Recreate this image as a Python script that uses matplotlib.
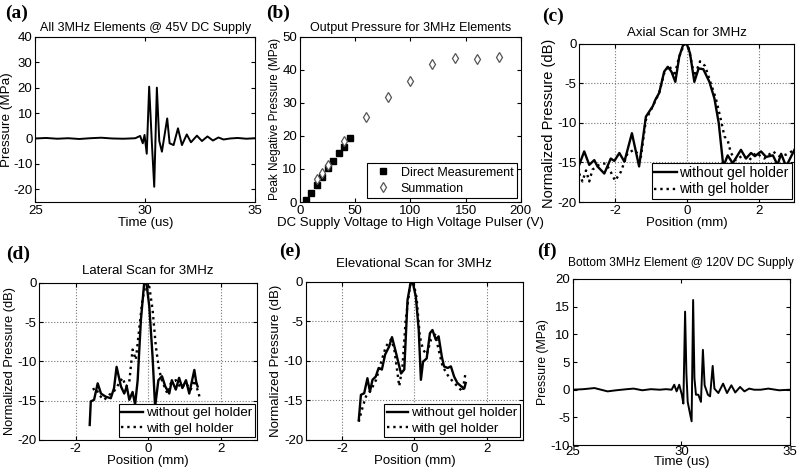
import matplotlib
matplotlib.use("Agg")
import matplotlib.pyplot as plt

plt.rcParams["font.family"] = ["Liberation Sans", "DejaVu Sans"]
plt.rcParams["axes.unicode_minus"] = False
plt.rcParams["xtick.direction"] = "in"
plt.rcParams["ytick.direction"] = "in"
plt.rcParams["xtick.top"] = True
plt.rcParams["ytick.right"] = True
plt.rcParams["xtick.major.size"] = 3
plt.rcParams["ytick.major.size"] = 3
plt.rcParams["xtick.major.pad"] = 2
plt.rcParams["ytick.major.pad"] = 2
plt.rcParams["font.size"] = 9.5

# (a) all elements @ 45V
time_a = [25.0, 25.5, 26.0, 26.5, 27.0, 27.5, 28.0, 28.5, 29.0, 29.3, 29.55, 29.77,
          29.89, 29.97, 30.07, 30.18, 30.30, 30.41, 30.53, 30.64, 30.76, 31.0, 31.11,
          31.29, 31.49, 31.67, 31.89, 32.08, 32.35, 32.58, 32.83, 33.08, 33.33, 33.56,
          33.86, 34.2, 34.6, 35.0]
press_a = [0.0, 0.2, -0.1, 0.1, -0.2, 0.1, 0.3, 0.0, -0.1, 0.0, 0.1, 1.0,
           -1.9, 1.4, -6.0, 20.4, -1.2, -19.0, 20.0, -1.0, -5.2, 7.9, -1.9,
           -2.6, 4.0, -2.6, 1.6, -1.5, 1.1, -1.0, 0.8, -0.8, 0.4, -0.4,
           0.0, 0.2, -0.1, 0.1]

# (b) output pressure vs supply voltage
volt_direct = [5, 10, 15, 20, 25, 30, 35, 40, 45]
press_direct = [0.7, 2.8, 5.1, 7.5, 10.2, 12.5, 14.9, 16.8, 19.4]
volt_sum = [15, 20, 25, 40, 60, 80, 100, 120, 140, 160, 180]
press_sum = [6.9, 8.8, 11.2, 18.4, 25.7, 31.8, 36.5, 41.7, 43.5, 43.4, 44.0]

# (c) axial scan
pos_c_s = [-3.0, -2.86, -2.72, -2.58, -2.49, -2.30, -2.12, -2.02, -1.88, -1.74, -1.53,
           -1.43, -1.33, -1.14, -0.95, -0.88, -0.77, -0.63, -0.53, -0.43, -0.32, -0.21,
           -0.10, 0.0, 0.09, 0.21, 0.33, 0.46, 0.63, 0.77, 0.89, 1.0, 1.02, 1.14, 1.28,
           1.51, 1.65, 1.79, 1.90, 2.07, 2.21, 2.40, 2.53, 2.63, 2.77, 3.0]
db_c_s = [-15.3, -13.6, -15.3, -14.7, -15.5, -16.4, -14.5, -14.8, -13.8, -14.9, -11.3,
          -13.4, -15.5, -9.2, -7.9, -7.1, -6.2, -3.5, -2.9, -3.5, -4.8, -1.6,
          -0.1, 0.0, -1.2, -4.8, -3.1, -3.2, -4.8, -6.9, -10.0, -14.7, -15.5, -14.1, -15.1,
          -13.4, -14.5, -13.8, -14.2, -13.6, -14.3, -14.1, -15.3, -13.9, -15.5, -13.4]
pos_c_d = [-3.0, -2.91, -2.81, -2.72, -2.63, -2.44, -2.26, -2.12, -2.0, -1.84, -1.65,
           -1.47, -1.28, -1.14, -0.95, -0.77, -0.63, -0.49, -0.35, -0.21, -0.07, 0.05,
           0.21, 0.37, 0.51, 0.67, 0.81, 0.95, 1.05, 1.14, 1.23, 1.37, 1.56, 1.74, 1.93,
           2.16, 2.40, 2.58, 2.77, 3.0]
db_c_d = [-16.4, -17.4, -16.0, -17.4, -15.9, -15.3, -15.1, -16.2, -17.3, -16.2, -13.8,
          -13.4, -14.3, -9.6, -7.9, -6.2, -3.7, -2.7, -4.1, -1.6, 0.0, -0.5,
          -4.1, -2.2, -2.8, -5.0, -6.9, -9.6, -11.7, -12.2, -13.8, -14.7, -14.1, -14.7, -13.8,
          -14.5, -13.6, -14.2, -14.0, -13.4]

# (d) lateral scan
pos_d_s = [-1.61, -1.58, -1.49, -1.39, -1.30, -1.17, -1.03, -0.94, -0.87, -0.75, -0.66,
           -0.59, -0.52, -0.43, -0.36, -0.29, -0.20, -0.11, -0.05, 0.03, 0.12, 0.19,
           0.28, 0.38, 0.47, 0.58, 0.65, 0.76, 0.85, 0.94, 1.04, 1.13, 1.27, 1.32, 1.36]
db_d_s = [-18.1, -15.1, -14.9, -12.8, -14.1, -14.5, -14.7, -13.4, -10.7, -13.2, -14.1,
          -13.2, -14.9, -13.9, -15.5, -12.4, -4.7, 0.0, 0.0, -3.0, -9.4, -15.8,
          -12.4, -11.9, -13.2, -14.1, -12.4, -13.6, -12.1, -13.4, -12.4, -14.1, -11.1, -12.6, -13.2]
pos_d_d = [-1.53, -1.44, -1.35, -1.21, -1.08, -0.94, -0.80, -0.71, -0.61, -0.52, -0.43,
           -0.34, -0.25, -0.16, -0.06, 0.03, 0.12, 0.21, 0.30, 0.39, 0.53, 0.62,
           0.76, 0.90, 1.04, 1.17, 1.27, 1.39, 1.42]
db_d_d = [-13.6, -13.4, -14.3, -14.9, -14.3, -13.8, -12.8, -12.1, -13.2, -12.6, -8.5,
          -9.8, -6.0, -2.2, 0.0, -0.5, -3.4, -8.1, -11.1, -12.6, -14.1, -12.8,
          -12.4, -13.4, -12.8, -13.6, -12.4, -14.1, -14.7]

# (e) elevational scan
pos_e_s = [-1.54, -1.48, -1.39, -1.30, -1.23, -1.16, -1.07, -0.99, -0.90, -0.81, -0.70,
           -0.62, -0.53, -0.44, -0.37, -0.28, -0.19, -0.10, -0.04, 0.04, 0.12, 0.18,
           0.24, 0.34, 0.43, 0.50, 0.59, 0.67, 0.76, 0.82, 0.92, 1.01, 1.10, 1.19, 1.29,
           1.38, 1.42]
db_e_s = [-17.5, -14.3, -14.1, -12.2, -13.9, -12.4, -12.0, -10.9, -11.1, -9.2, -8.2,
          -7.0, -8.6, -10.3, -11.6, -11.1, -2.3, 0.0, -0.2, -1.9, -6.1, -12.4,
          -10.1, -9.7, -6.5, -6.1, -7.3, -6.9, -9.5, -10.7, -10.9, -10.7, -12.0, -12.8, -13.2,
          -13.5, -12.8]
pos_e_d = [-1.54, -1.43, -1.34, -1.20, -1.06, -0.93, -0.79, -0.65, -0.56, -0.42, -0.33,
           -0.24, -0.12, -0.03, 0.06, 0.15, 0.24, 0.34, 0.46, 0.58, 0.67, 0.78,
           0.92, 1.06, 1.19, 1.33, 1.42]
db_e_d = [-17.7, -15.8, -14.5, -13.7, -12.4, -10.3, -8.2, -7.3, -8.4, -13.2, -10.7,
          -4.8, -0.4, 0.0, -2.0, -6.9, -8.6, -9.2, -7.3, -6.7, -8.6, -10.7,
          -11.8, -12.6, -13.2, -13.9, -11.4]

# (f) bottom element @ 120V
time_f = [25.0, 25.5, 26.0, 26.3, 26.6, 27.0, 27.5, 27.8, 28.2, 28.6, 29.0, 29.3, 29.55,
          29.67, 29.78, 29.90, 30.02, 30.09, 30.17, 30.23, 30.29, 30.38, 30.47, 30.54,
          30.60, 30.67, 30.78, 30.90, 30.99, 31.07, 31.22, 31.32, 31.44, 31.52, 31.70,
          31.92, 32.10, 32.30, 32.48, 32.70, 32.90, 33.12, 33.35, 33.65, 34.0, 34.5, 35.0]
press_f = [0.0, 0.1, 0.3, 0.0, -0.3, -0.1, 0.1, 0.2, -0.1, 0.1, 0.0, 0.1, 0.0,
           0.9, -0.3, 0.9, -0.9, -2.5, 14.1, 3.0, -2.2, -4.0, -5.7, 16.2,
           2.1, -0.9, -0.9, -2.2, 7.2, 0.8, -0.9, -1.2, 4.3, 0.2, -0.6,
           1.1, -0.6, 0.8, -0.5, 0.5, -0.3, 0.2, 0.0, 0.0, 0.2, -0.1, 0.0]

fig = plt.figure(figsize=(8, 4.72), dpi=100)

ax_a = fig.add_axes([0.044, 0.572, 0.275, 0.350])
ax_b = fig.add_axes([0.375, 0.572, 0.276, 0.350])
ax_c = fig.add_axes([0.724, 0.572, 0.269, 0.335])
ax_d = fig.add_axes([0.049, 0.068, 0.2725, 0.333])
ax_e = fig.add_axes([0.3825, 0.068, 0.271, 0.335])
ax_f = fig.add_axes([0.716, 0.057, 0.2715, 0.352])

# (a)
ax_a.plot(time_a, press_a, color="black", lw=1.4)
ax_a.set_xlim(25, 35)
ax_a.set_ylim(-25, 40)
ax_a.set_xticks([25, 30, 35])
ax_a.set_yticks([-20, -10, 0, 10, 20, 30, 40])
ax_a.set_title("All 3MHz Elements @ 45V DC Supply", fontsize=9, pad=4)
ax_a.set_xlabel("Time (us)", labelpad=0)
ax_a.set_ylabel("Pressure (MPa)", fontsize=9.7, labelpad=0)

# (b)
ax_b.plot(volt_direct, press_direct, "s", color="black", ms=4.2,
          label="Direct Measurement")
ax_b.plot(volt_sum, press_sum, "d", mfc="white", mec="#555555", mew=0.9, ms=5.5,
          label="Summation")
ax_b.set_xlim(0, 200)
ax_b.set_ylim(0, 50)
ax_b.set_xticks([0, 50, 100, 150, 200])
ax_b.set_title("Output Pressure for 3MHz Elements", fontsize=9, pad=4)
ax_b.set_xlabel("DC Supply Voltage to High Voltage Pulser (V)", labelpad=0)
ax_b.set_ylabel("Peak Negative Pressure (MPa)", fontsize=8.5, labelpad=1)
leg = ax_b.legend(loc="lower right", fontsize=9, fancybox=False, framealpha=1,
                  edgecolor="black", borderpad=0.3, labelspacing=0.3,
                  handletextpad=0.4, borderaxespad=0.3)
leg.get_frame().set_linewidth(0.8)

# scans
scans = [
    (ax_c, pos_c_s, db_c_s, pos_c_d, db_c_d, "Axial Scan for 3MHz", 10.5, 6, 10),
    (ax_d, pos_d_s, db_d_s, pos_d_d, db_d_d, "Lateral Scan for 3MHz", 9.3, 6, 9.7),
    (ax_e, pos_e_s, db_e_s, pos_e_d, db_e_d, "Elevational Scan for 3MHz", 9.5, 11, 9.7),
]
for ax, xs, ys, xd, yd, title, ysize, tpad, lsize in scans:
    ax.plot(xs, ys, color="black", lw=1.7, label="without gel holder")
    ax.plot(xd, yd, color="black", lw=1.7, ls=":", label="with gel holder")
    ax.set_xlim(-3, 3)
    ax.set_ylim(-20, 0)
    ax.set_xticks([-2, 0, 2])
    ax.set_yticks([-20, -15, -10, -5, 0])
    ax.grid(True, color="#777777", ls=":", lw=0.8)
    ax.set_title(title, fontsize=9.5, pad=tpad)
    ax.set_xlabel("Position (mm)", labelpad=0)
    ax.set_ylabel("Normalized Pressure (dB)", fontsize=ysize, labelpad=1)
    lg = ax.legend(loc="lower right", fontsize=lsize, fancybox=False, framealpha=1,
                   edgecolor="black", borderpad=0.2, labelspacing=0.2,
                   handlelength=1.6, handletextpad=0.2, borderaxespad=0.2)
    lg.get_frame().set_linewidth(0.8)

# (f)
ax_f.plot(time_f, press_f, color="black", lw=1.4)
ax_f.set_xlim(25, 35)
ax_f.set_ylim(-10, 20)
ax_f.set_xticks([25, 30, 35])
ax_f.set_yticks([-10, -5, 0, 5, 10, 15, 20])
ax_f.tick_params(axis="x", pad=0.5)
ax_f.set_title("Bottom 3MHz Element @ 120V DC Supply", fontsize=8.6, pad=9)
ax_f.set_xlabel("Time (us)", labelpad=-1)
ax_f.set_ylabel("Pressure (MPa)", fontsize=8.8, labelpad=1)

panel_font = dict(family=["Liberation Serif", "DejaVu Serif"], fontweight="bold",
                  fontsize=14)
fig.text(0.006, 0.972, "(a)", va="center", **panel_font)
fig.text(0.333, 0.972, "(b)", va="center", **panel_font)
fig.text(0.678, 0.966, "(c)", va="center", **panel_font)
fig.text(0.008, 0.462, "(d)", va="center", **panel_font)
fig.text(0.349, 0.467, "(e)", va="center", **panel_font)
fig.text(0.672, 0.467, "(f)", va="center", **panel_font)

fig.savefig("out.png", dpi=100)
